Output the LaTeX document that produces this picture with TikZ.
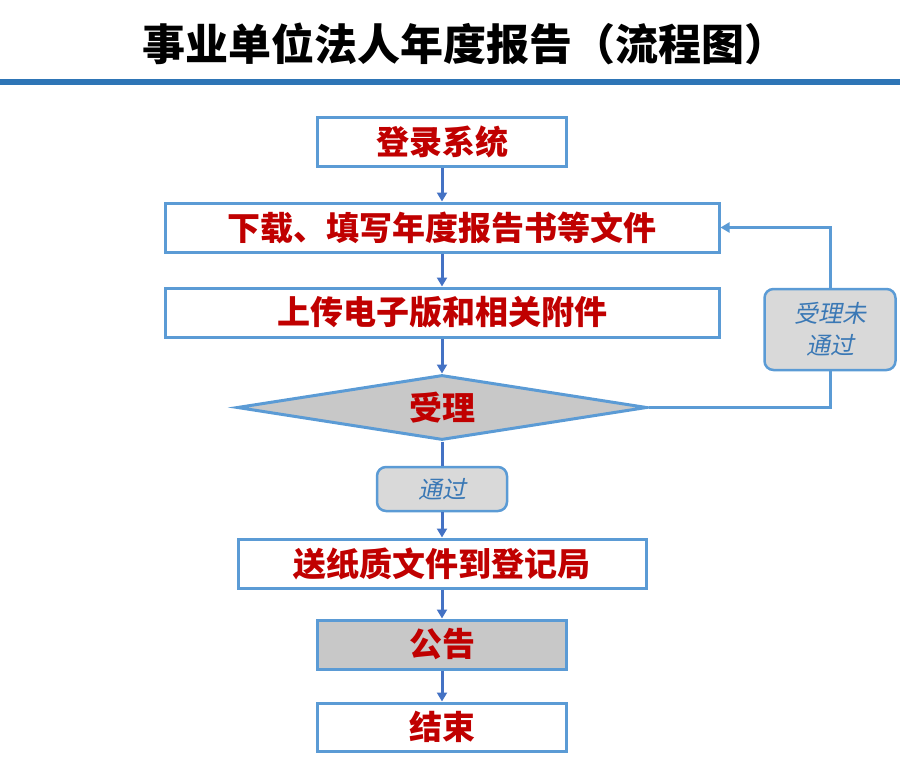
\documentclass[tikz,border=0pt]{standalone}
\usepackage{fontspec}
\usetikzlibrary{shapes.geometric,arrows.meta}
\newfontfamily\cjk{Noto Sans CJK SC}
\newfontfamily\cjkit{Noto Sans CJK SC}[FakeSlant=0.2]
\definecolor{boxblue}{HTML}{5B9BD5}
\definecolor{arrblue}{HTML}{4472C4}
\definecolor{barblue}{HTML}{2E75B6}
\definecolor{txtred}{HTML}{C00000}
\definecolor{lblblue}{HTML}{3A78B5}
\definecolor{lgray}{HTML}{D9D9D9}
\definecolor{mgray}{HTML}{C8C8C8}
\tikzset{
  stepbox/.style={draw=boxblue, line width=3pt, fill=white, inner sep=0pt,
    minimum height=49pt, text=txtred,
    font=\cjk\bfseries\fontsize{33pt}{36pt}\selectfont},
  labelbox/.style={draw=boxblue, line width=2.5pt, fill=lgray, rounded corners=9pt,
    inner sep=0pt, text=lblblue, align=center,
    font=\cjkit\fontsize{24pt}{32pt}\selectfont},
  flow/.style={draw=arrblue, line width=3pt, -{Triangle[width=10pt,length=9pt]}},
  flowplain/.style={draw=arrblue, line width=3pt},
  back/.style={draw=boxblue, line width=3pt},
}
\begin{document}
\begin{tikzpicture}[x=1pt,y=-1pt]
\useasboundingbox (0,0) rectangle (900,768);
\node (title) at (465,44) {\cjk\bfseries\fontsize{43pt}{46pt}\selectfont 事业单位法人年度报告（流程图）};
\fill[barblue] (0,79) rectangle (900,85);
\node[stepbox, minimum width=249pt] (login) at (442,141.5) {登录系统};
\node[stepbox, minimum width=554pt] (fill) at (442,227.5) {下载、填写年度报告书等文件};
\node[stepbox, minimum width=554pt] (upload) at (442,312.5) {上传电子版和相关附件};
\node[diamond, draw=boxblue, line width=3pt, fill=mgray, aspect=6.2, inner sep=0pt,
  minimum width=410pt, minimum height=65pt, text=txtred,
  font=\cjk\bfseries\fontsize{33pt}{36pt}\selectfont] (accept) at (442,407.5) {受理};
\node[labelbox, minimum width=130pt, minimum height=44pt] (pass) at (442,489) {通过};
\node[stepbox, minimum width=408pt] (send) at (442,563.5) {送纸质文件到登记局};
\node[stepbox, minimum width=249pt, fill=mgray] (notice) at (442,644.5) {公告};
\node[stepbox, minimum width=249pt, minimum height=48pt] (end) at (442,727) {结束};
\node[labelbox, minimum width=131pt, minimum height=81pt] (fail) at (830,329.5) {受理未\\通过};
\coordinate (turn) at (830,407.5);
\draw[flow] (login) -- (fill);
\draw[flow] (fill) -- (upload);
\draw[flow] (upload) -- (accept.north);
\draw[flowplain] (accept.south) -- (pass);
\draw[flow] (pass) -- (send);
\draw[flow] (send) -- (notice);
\draw[flow] (notice) -- (end);
\draw[back] (accept.east) -- (turn) -- (fail.south);
\draw[back, -{Triangle[width=10pt,length=9pt]}] (fail.north) |- (fill.east);
\end{tikzpicture}
\end{document}
